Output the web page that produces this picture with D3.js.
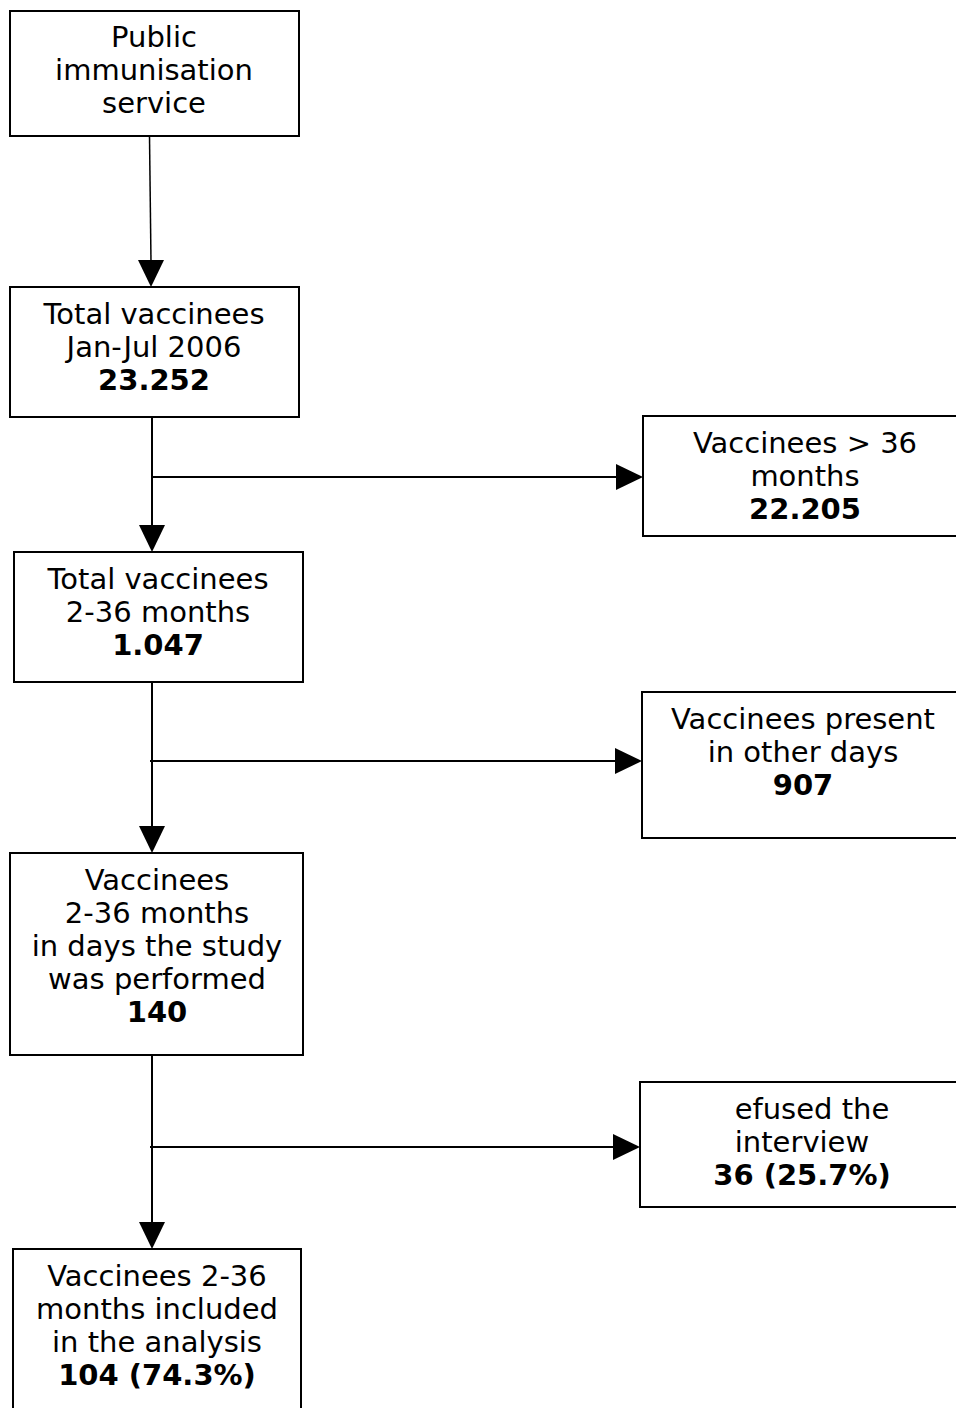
<!DOCTYPE html>
<html>
<head>
<meta charset="utf-8">
<script src="https://cdn.jsdelivr.net/npm/d3@7/dist/d3.min.js"></script>
<style>
  html, body { margin: 0; padding: 0; background: #fff; }
  svg { display: block; }
  text { font-family: "DejaVu Sans", sans-serif; font-size: 29px; fill: #000; }
</style>
</head>
<body>
<div id="chart"></div>
<script>
'use strict';

// flow steps (main column)
var mainLabels = [
  ['Public', 'immunisation', 'service'],
  ['Total vaccinees', 'Jan-Jul 2006'],
  ['Total vaccinees', '2-36 months'],
  ['Vaccinees', '2-36 months', 'in days the study', 'was performed'],
  ['Vaccinees 2-36', 'months included', 'in the analysis']
];
var mainCounts = ['', '23.252', '1.047', '140', '104 (74.3%)'];

// exclusions (side column)
var sideLabels = [
  ['Vaccinees > 36', 'months'],
  ['Vaccinees present', 'in other days'],
  ['efused the', 'interview']
];
var sideCounts = ['22.205', '907', '36 (25.7%)'];

// layout: box corners, text centre and first baseline
var mainBoxes = [
  {x0: 10, x1: 299, y0: 11, y1: 136, cx: 154, ty: 47},
  {x0: 10, x1: 299, y0: 287, y1: 417, cx: 154, ty: 324},
  {x0: 14, x1: 303, y0: 552, y1: 682, cx: 158, ty: 589},
  {x0: 10, x1: 303, y0: 853, y1: 1055, cx: 157, ty: 890},
  {x0: 13, x1: 301, y0: 1249, y1: 1425, cx: 157, ty: 1286}
];
var sideBoxes = [
  {x0: 643, x1: 970, y0: 416, y1: 536, cx: 805, ty: 453, by: 477},
  {x0: 642, x1: 970, y0: 692, y1: 838, cx: 803, ty: 729, by: 761},
  {x0: 640, x1: 970, y0: 1082, y1: 1207, cx: 802, ty: 1119, by: 1147}
];
var lineGap = 33,
    head = 27,
    halfHead = 13;

var svg = d3.select('#chart').append('svg')
    .attr('width', 956)
    .attr('height', 1408);

function drawBox(g, b, lines, count, offsets) {
  g.append('rect')
      .attr('x', b.x0).attr('y', b.y0)
      .attr('width', b.x1 - b.x0).attr('height', b.y1 - b.y0)
      .attr('fill', '#fff').attr('stroke', '#000').attr('stroke-width', 2);

  var all = lines.concat(count ? [count] : []);
  g.selectAll('text.line')
      .data(all)
      .enter().append('text')
      .attr('class', 'line')
      .attr('x', function (d, i) { return b.cx + ((offsets && offsets[i]) || 0); })
      .attr('y', function (d, i) { return b.ty + i * lineGap; })
      .attr('text-anchor', 'middle')
      .attr('font-weight', function (d, i) { return (count && i === all.length - 1) ? 'bold' : 'normal'; })
      .text(function (d) { return d; });
}

var gMain = svg.append('g');
mainBoxes.forEach(function (b, i) {
  drawBox(gMain.append('g'), b, mainLabels[i], mainCounts[i]);
});

var gSide = svg.append('g');
sideBoxes.forEach(function (b, i) {
  drawBox(gSide.append('g'), b, sideLabels[i], sideCounts[i], i === 2 ? [10, 0, 0] : null);
});

// vertical connectors between main boxes
var gArrows = svg.append('g');
mainBoxes.slice(0, -1).forEach(function (b, i) {
  var next = mainBoxes[i + 1],
      xTop = i === 0 ? 149.5 : 152,
      xBot = i === 0 ? 151 : 152;
  gArrows.append('path')
      .attr('d', 'M' + xTop + ',' + b.y1 + 'L' + xBot + ',' + (next.y0 - head + 2))
      .attr('stroke', '#000')
      .attr('stroke-width', i === 0 ? 1.5 : 2)
      .attr('fill', 'none');
  gArrows.append('path')
      .attr('d', 'M' + (xBot - halfHead) + ',' + (next.y0 - head) +
          'L' + (xBot + halfHead) + ',' + (next.y0 - head) +
          'L' + xBot + ',' + next.y0 + 'Z')
      .attr('fill', '#000');
});

// horizontal branches to exclusions
sideBoxes.forEach(function (s, i) {
  var x0 = i === 0 ? 152 : 150;
  gArrows.append('path')
      .attr('d', 'M' + x0 + ',' + s.by + 'L' + (s.x0 - head + 2) + ',' + s.by)
      .attr('stroke', '#000')
      .attr('stroke-width', 2)
      .attr('fill', 'none');
  gArrows.append('path')
      .attr('d', 'M' + (s.x0 - head) + ',' + (s.by - halfHead) +
          'L' + (s.x0 - head) + ',' + (s.by + halfHead) +
          'L' + s.x0 + ',' + s.by + 'Z')
      .attr('fill', '#000');
});
</script>
</body>
</html>
